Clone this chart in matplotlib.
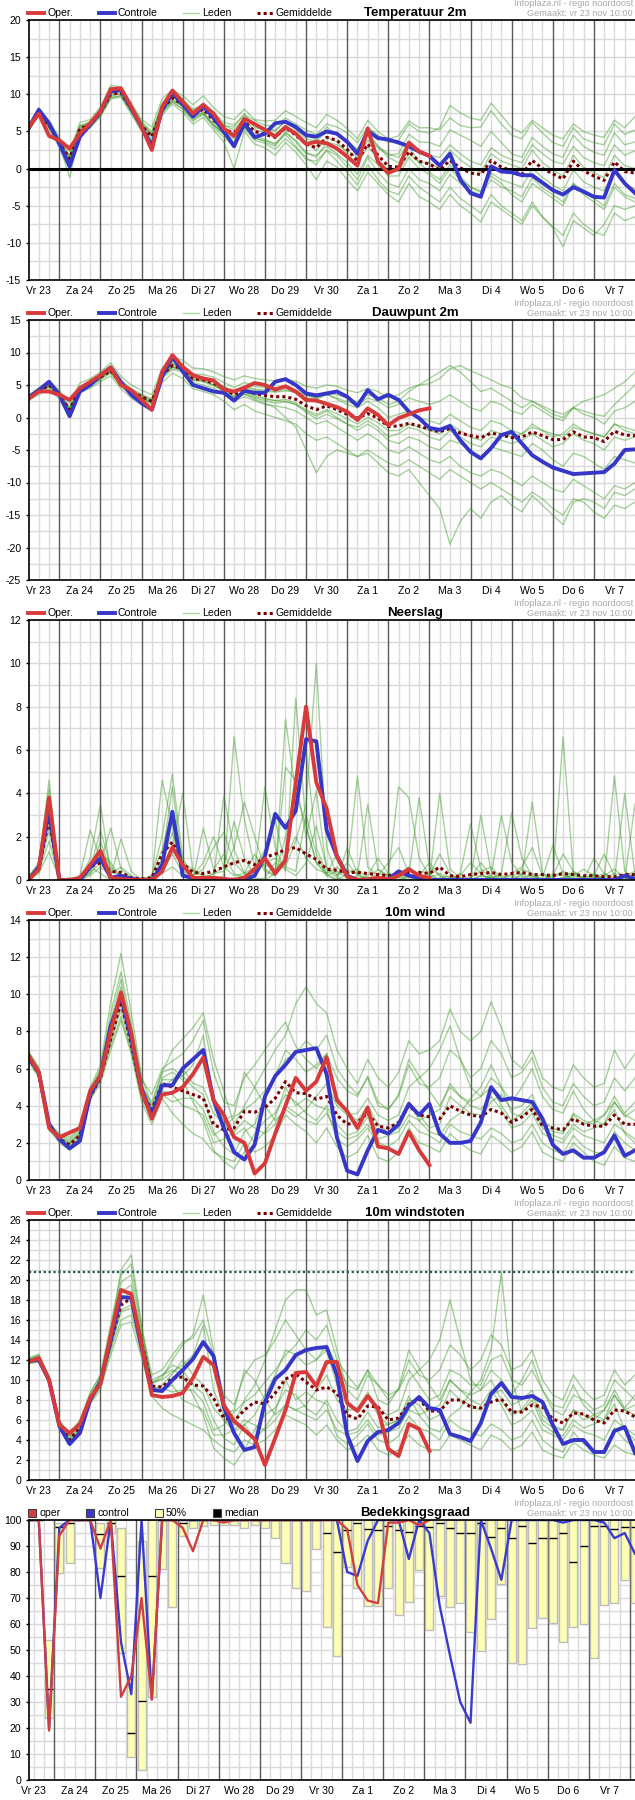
import numpy as np
import matplotlib
matplotlib.use("Agg")
import matplotlib.pyplot as plt
from matplotlib.lines import Line2D
from matplotlib.patches import Rectangle

plt.rcParams['font.family'] = ['Liberation Sans', 'DejaVu Sans']
plt.rcParams['axes.unicode_minus'] = False

W, H = 635, 1800

# hours after Vr 23 00:00, ensemble steps every 6 hours
hours = np.arange(6, 361, 6)
oper_hours = hours[:40]
cloud_hours = hours + 3
day_names = ['Vr 23', 'Za 24', 'Zo 25', 'Ma 26', 'Di 27', 'Wo 28', 'Do 29', 'Vr 30',
             'Za 1', 'Zo 2', 'Ma 3', 'Di 4', 'Wo 5', 'Do 6', 'Vr 7']
day_mid = [12 + 24 * i for i in range(len(day_names))]

# ---------------- Temperatuur 2m ----------------
temp_oper = [5.5, 7.4, 4.4, 3.8, 2.7, 4.7, 6.1, 7.7, 10.7, 10.8,
             8.3, 5.6, 2.5, 8.3, 10.5, 9.0, 7.4, 8.6, 7.4, 5.4,
             4.4, 6.7, 6.0, 5.2, 4.3, 5.6, 4.7, 3.3, 3.6, 3.4,
             2.7, 1.6, 0.4, 5.4, 0.9, -0.6, 0.0, 3.5, 2.3, 1.7]
temp_ctrl = [5.4, 7.9, 6.1, 3.4, 0.3, 4.3, 5.9, 7.7, 10.4, 10.6,
             8.1, 5.6, 3.0, 7.9, 10.2, 8.6, 7.0, 8.4, 6.8, 5.0,
             3.0, 6.1, 4.2, 4.7, 6.1, 6.3, 5.6, 4.5, 4.3, 5.0,
             4.7, 3.6, 2.0, 5.1, 4.1, 3.9, 3.5, 3.0, 2.3, 1.7,
             0.4, 2.0, -1.5, -3.3, -3.8, 0.3, -0.4, -0.5, -0.9, -0.9,
             -1.9, -2.9, -3.5, -2.5, -3.1, -3.8, -3.9, -0.2, -2.0, -3.3]
temp_mean = [5.4, 7.6, 5.8, 3.5, 1.3, 5.4, 5.9, 7.5, 10.0, 10.2,
             8.0, 5.8, 4.3, 8.0, 9.5, 8.6, 7.2, 8.0, 6.5, 5.3,
             4.8, 6.3, 5.0, 4.6, 4.2, 5.5, 4.5, 3.3, 2.8, 4.2,
             3.8, 2.6, 1.0, 3.3, 1.8, 0.3, 0.2, 2.3, 1.0, 0.6,
             -0.2, 1.1, 0.1, -0.6, -0.8, 1.1, 0.2, -0.3, -0.8, 1.1,
             0.0, -0.7, -1.4, 1.0, -0.3, -1.0, -1.6, 0.9, -0.4, -0.6]
temp_members = [
    [5.9, 8.2, 6.4, 4.2, 2.3, 6.2, 6.6, 8.3, 11.2, 11.0,
     8.8, 6.6, 5.6, 9.4, 10.6, 9.8, 8.6, 9.8, 8.2, 7.0,
     6.6, 8.0, 6.6, 6.4, 6.5, 7.8, 7.0, 6.2, 5.5, 7.3,
     6.5, 5.4, 4.0, 6.5, 5.0, 4.0, 4.4, 6.4, 5.5, 5.5,
     5.2, 6.8, 5.8, 5.5, 5.6, 7.8, 6.0, 4.5, 4.0, 6.2,
     4.8, 3.5, 3.0, 5.5, 4.0, 3.5, 3.2, 6.0, 4.6, 5.2],
    [5.0, 7.2, 5.3, 2.8, 0.0, 4.6, 5.5, 7.0, 9.4, 9.6,
     7.3, 5.0, 3.2, 7.2, 8.7, 7.6, 6.0, 6.9, 5.2, 3.6,
     0.0, 5.0, 3.3, 2.8, 1.8, 3.5, 2.2, 0.5, -1.5, 1.0,
     0.2, -1.5, -3.0, -0.5, -2.0, -3.5, -4.5, -2.0, -3.8, -4.5,
     -5.5, -3.5, -5.0, -6.0, -7.2, -4.5, -5.5, -6.5, -7.5, -5.0,
     -6.5, -7.8, -9.0, -6.0, -7.5, -8.5, -9.0, -6.0, -7.0, -6.5],
    [5.6, 7.8, 6.0, 3.9, 1.8, 5.8, 6.3, 7.9, 10.6, 10.5,
     8.4, 6.2, 4.8, 8.6, 10.0, 9.1, 7.8, 8.6, 7.3, 5.8,
     5.6, 7.4, 5.5, 5.4, 5.2, 6.3, 5.6, 4.6, 3.8, 5.6,
     4.5, 3.8, 2.6, 5.0, 3.0, 1.5, 0.8, 3.0, 0.8, -0.5,
     -1.5, 0.5, -1.0, -2.5, -3.0, -1.0, -2.0, -3.5, -4.5, -2.0,
     -3.0, -4.0, -5.0, -2.0, -3.5, -4.5, -5.5, -2.5, -3.8, -4.5],
    [5.2, 7.4, 5.5, 3.1, 0.8, 5.0, 5.6, 7.1, 9.6, 9.8,
     7.6, 5.4, 3.7, 7.5, 9.0, 8.0, 6.6, 7.4, 5.9, 4.6,
     4.0, 5.6, 4.2, 3.6, 3.0, 4.8, 3.8, 2.2, 1.5, 3.6,
     3.2, 2.4, 1.5, 3.8, 2.8, 1.8, 2.0, 4.6, 3.6, 3.5,
     3.0, 5.2, 4.5, 3.8, 3.0, 5.0, 3.5, 2.0, 1.5, 4.2,
     3.0, 2.0, 1.5, 4.5, 3.0, 2.2, 1.8, 4.8, 3.2, 3.6],
    [5.5, 7.5, 5.9, 3.6, 1.0, 5.3, 6.0, 7.6, 9.9, 10.4,
     8.2, 5.6, 4.0, 7.8, 9.2, 8.4, 7.0, 7.6, 6.0, 4.6,
     3.6, 5.6, 4.0, 3.8, 3.4, 4.6, 3.0, 1.5, 0.5, 2.5,
     1.8, 0.2, -1.5, 1.5, -0.5, -2.0, -2.5, 0.0, -1.5, -2.0,
     -3.0, -0.8, -2.0, -3.0, -3.5, -1.5, -2.5, -3.0, -3.8, -1.2,
     -2.6, -3.5, -4.5, -2.0, -3.0, -4.0, -5.0, -2.0, -3.5, -4.0],
    [5.3, 7.7, 5.7, 3.4, 1.6, 5.7, 6.2, 7.7, 10.3, 10.0,
     7.8, 6.0, 4.6, 8.4, 9.8, 8.8, 7.5, 8.5, 7.0, 5.8,
     5.2, 6.9, 6.0, 5.4, 5.0, 6.5, 5.2, 4.0, 3.6, 5.0,
     4.8, 3.6, 2.5, 4.5, 3.0, 2.0, 1.5, 3.5, 2.0, 1.8,
     1.5, 3.2, 2.0, 1.0, 0.5, 2.8, 1.8, 1.2, 0.8, 3.2,
     2.0, 1.0, 0.6, 3.0, 1.5, 0.8, 0.4, 3.2, 1.8, 2.4],
    [5.4, 7.5, 5.6, 3.3, 1.2, 5.2, 5.8, 7.3, 9.8, 10.1,
     7.9, 5.9, 4.4, 8.1, 9.3, 8.4, 6.8, 7.5, 5.8, 4.8,
     4.2, 5.8, 4.4, 3.9, 3.2, 5.0, 3.6, 2.0, 1.8, 3.0,
     2.0, 0.8, -0.8, 1.8, 0.5, -1.0, -1.0, 1.5, 0.0, -0.8,
     -2.0, 0.0, -1.5, -2.5, -3.2, -0.6, -1.5, -2.0, -2.5, 0.0,
     -1.2, -2.2, -3.0, -0.2, -1.8, -2.5, -3.0, -0.2, -2.0, -2.8],
    [5.6, 7.9, 6.1, 3.8, 1.5, 5.5, 6.1, 7.8, 10.8, 10.6,
     8.5, 6.3, 5.0, 8.8, 10.2, 9.4, 8.0, 8.6, 7.6, 6.2,
     5.9, 7.2, 6.5, 5.8, 5.8, 6.8, 6.0, 5.2, 4.6, 6.0,
     5.6, 4.8, 3.5, 5.6, 4.5, 3.5, 3.8, 6.0, 5.0, 4.8,
     5.5, 8.5, 7.5, 6.8, 6.5, 8.8, 7.2, 5.5, 4.8, 6.5,
     5.5, 4.5, 4.0, 6.0, 5.0, 4.5, 4.2, 6.5, 5.5, 7.0],
    [5.1, 7.3, 5.6, 3.2, -1.2, 4.9, 5.7, 7.2, 9.5, 9.8,
     7.7, 5.3, 3.6, 7.6, 9.0, 8.0, 6.4, 7.3, 5.6, 4.2,
     3.0, 5.4, 3.8, 3.4, 2.6, 4.0, 2.8, 1.2, 1.0, 2.4,
     1.0, -0.5, -2.2, 0.5, -1.5, -3.0, -3.5, -1.0, -2.5, -3.5,
     -4.5, -2.5, -4.0, -5.0, -6.0, -3.5, -5.0, -6.0, -7.0, -4.5,
     -6.5, -8.0, -10.5, -7.0, -8.0, -9.0, -7.5, -5.0, -5.5, -5.0],
    [5.5, 7.7, 5.9, 3.6, 1.4, 5.6, 6.0, 7.6, 10.1, 10.4,
     8.1, 5.9, 4.4, 8.0, 9.6, 8.7, 7.4, 8.2, 6.8, 5.4,
     4.6, 6.6, 5.2, 4.9, 4.6, 5.8, 4.8, 3.6, 2.4, 4.2,
     3.6, 2.0, 0.5, 3.0, 1.2, -0.2, -0.4, 2.0, 0.8, 0.8,
     0.0, 2.5, 1.2, 0.2, -0.5, 2.0, 1.0, 0.5, 0.0, 2.5,
     0.8, -0.2, -1.0, 1.8, 0.2, -0.6, -1.2, 1.8, 0.4, 0.0],
]

# ---------------- Dauwpunt 2m ----------------
dew_oper = [2.9, 4.0, 4.0, 3.5, 2.7, 4.5, 5.5, 6.5, 7.7, 5.0,
            4.2, 2.7, 1.2, 7.0, 9.6, 7.8, 6.5, 6.0, 5.7, 4.3,
            4.0, 4.6, 5.3, 5.0, 4.3, 4.8, 4.0, 2.7, 2.6, 2.1,
            1.6, 0.9, -0.4, 1.4, 0.4, -1.2, -0.1, 0.5, 1.1, 1.4]
dew_ctrl = [3.1, 4.2, 5.5, 3.5, 0.2, 4.0, 5.0, 6.5, 7.7, 5.4,
            3.5, 2.2, 1.2, 6.3, 9.3, 7.1, 5.0, 4.5, 4.0, 3.8,
            2.6, 4.1, 3.8, 3.8, 5.5, 5.9, 5.0, 3.7, 3.4, 3.7,
            4.0, 3.2, 1.8, 4.2, 2.8, 3.5, 2.7, 0.9, -0.1, -1.6,
            -1.9, -1.3, -3.5, -5.3, -6.3, -4.7, -2.7, -2.2, -4.0, -5.8,
            -6.8, -7.7, -8.2, -8.7, -8.6, -8.5, -8.4, -7.1, -5.0, -4.9]
dew_mean = [3.0, 4.0, 5.0, 3.5, 1.2, 4.5, 5.2, 6.2, 7.2, 5.3,
            4.0, 3.2, 2.5, 6.5, 8.0, 7.5, 6.0, 5.8, 5.3, 4.5,
            3.5, 4.2, 3.7, 3.4, 3.2, 3.2, 2.8, 1.8, 1.2, 1.8,
            1.2, 0.5, -0.1, 0.6, -0.1, -1.4, -1.3, -0.9, -1.3, -1.8,
            -2.2, -1.7, -2.4, -2.8, -3.1, -2.4, -2.7, -3.1, -3.0, -2.2,
            -2.8, -3.4, -3.4, -2.2, -3.0, -3.1, -3.7, -2.1, -2.7, -2.8]
dew_members = [
    [3.4, 4.6, 5.6, 4.2, 2.2, 5.3, 6.0, 7.0, 8.4, 6.3,
     5.0, 4.2, 3.5, 7.6, 9.4, 8.8, 7.6, 7.5, 7.0, 6.3,
     5.8, 6.4, 6.0, 5.8, 5.6, 5.8, 5.6, 4.8, 4.5, 5.0,
     4.8, 4.2, 3.8, 4.5, 4.0, 3.0, 3.5, 4.5, 5.0, 5.2,
     6.0, 7.5, 8.0, 7.2, 6.5, 5.8, 5.0, 4.5, 3.0, 2.5,
     1.8, 1.0, 0.5, 1.5, 1.0, 0.5, 0.2, 2.0, 3.5, 5.0],
    [2.6, 3.5, 4.4, 2.8, 0.0, 3.8, 4.5, 5.5, 6.4, 4.4,
     3.0, 2.0, 1.2, 5.4, 6.8, 6.0, 4.4, 4.0, 3.5, 2.5,
     1.2, 2.0, 1.0, 0.5, 0.0, -0.5, -1.0, -2.5, -3.5, -3.0,
     -4.0, -5.0, -6.0, -5.5, -7.0, -8.5, -9.0, -8.0, -10.0, -12.0,
     -14.0, -19.5, -16.0, -14.0, -15.5, -13.0, -12.0, -13.5, -14.5, -12.0,
     -13.5, -15.0, -16.5, -13.0, -12.5, -13.0, -14.0, -11.5, -12.0, -11.0],
    [3.1, 4.2, 5.2, 3.7, 1.6, 4.8, 5.6, 6.6, 7.8, 5.8,
     4.4, 3.6, 2.9, 7.0, 8.6, 8.0, 6.7, 6.6, 6.2, 5.4,
     4.6, 5.4, 4.8, 4.6, 4.5, 4.8, 4.2, 3.5, 3.0, 3.6,
     2.8, 2.0, 1.5, 2.5, 1.5, 0.0, 0.5, 1.0, 0.0, -0.5,
     -1.0, 0.5, -0.5, -1.5, -2.0, -0.5, -1.0, -2.0, -2.5, -1.0,
     -2.0, -2.5, -3.0, -1.5, -2.0, -2.5, -3.0, -1.0, -1.5, -2.0],
    [2.8, 3.8, 4.7, 3.2, 0.8, 4.2, 4.8, 5.8, 6.8, 4.8,
     3.6, 2.8, 2.0, 6.0, 7.4, 7.0, 5.4, 5.0, 4.5, 3.6,
     2.5, 3.2, 2.6, 2.0, 1.8, 1.5, 1.0, 0.0, -1.0, -0.5,
     -1.5, -2.5, -3.5, -2.5, -3.5, -5.0, -5.5, -4.5, -5.5, -6.5,
     -7.0, -6.0, -7.5, -8.5, -9.0, -8.0, -8.5, -9.5, -10.5, -9.0,
     -10.0, -11.0, -11.5, -9.5, -10.5, -11.5, -12.5, -10.5, -11.0, -10.0],
    [3.2, 4.3, 5.3, 3.9, 1.4, 4.7, 5.4, 6.4, 7.5, 5.5,
     4.3, 3.4, 2.7, 6.8, 8.3, 7.8, 6.3, 6.2, 5.6, 4.8,
     4.0, 4.8, 4.4, 4.2, 4.0, 4.3, 3.8, 3.0, 2.8, 3.5,
     3.0, 2.4, 2.0, 3.0, 2.5, 1.5, 2.0, 3.0, 2.5, 2.0,
     2.5, 3.5, 2.5, 1.5, 1.0, 2.5, 2.0, 1.0, 0.5, 2.0,
     1.0, 0.0, -0.5, 1.5, 0.5, 0.0, -1.0, 1.0, 1.5, 2.5],
    [2.9, 3.9, 4.8, 3.3, 1.0, 4.3, 5.0, 6.0, 7.0, 5.0,
     3.8, 3.0, 2.2, 6.3, 7.8, 7.2, 5.7, 5.5, 4.9, 4.0,
     2.8, 3.6, 3.0, 2.6, 2.2, 2.4, 2.0, 0.8, -0.2, 0.5,
     -0.2, -1.0, -2.0, -1.0, -2.0, -3.5, -4.0, -3.0, -3.5, -4.5,
     -5.0, -3.5, -4.0, -5.0, -6.0, -4.5, -5.0, -5.5, -6.0, -4.0,
     -5.0, -6.5, -7.5, -5.5, -6.0, -7.0, -8.0, -6.0, -6.5, -7.0],
    [3.0, 4.1, 5.1, 3.6, 1.3, 4.6, 5.3, 6.3, 7.3, 5.2,
     4.0, 3.1, 2.4, 6.6, 8.1, 7.6, 6.1, 5.9, 5.4, 4.4,
     3.3, 4.0, 3.4, 3.0, 2.6, 2.5, 2.0, 1.0, 0.2, 1.0,
     0.0, -1.0, -1.5, -0.5, -1.5, -3.0, -2.5, -1.5, -2.0, -3.0,
     -3.5, -2.0, -3.0, -4.0, -4.5, -3.0, -3.5, -4.0, -3.5, -2.5,
     -3.5, -4.5, -4.0, -2.5, -3.5, -4.0, -5.0, -3.0, -3.5, -3.0],
    [3.0, 4.0, 4.9, 3.4, 1.1, 4.4, 5.1, 6.1, 7.1, 5.1,
     3.9, 3.1, 2.3, 6.4, 7.9, 7.3, 5.9, 5.6, 5.0, 4.2,
     3.2, 3.6, 2.8, 2.2, 1.5, 0.0, -1.5, -5.0, -8.5, -6.0,
     -5.0, -5.5, -6.0, -5.0, -6.0, -7.0, -7.5, -6.5, -7.5, -8.5,
     -9.5, -8.0, -9.0, -10.0, -11.0, -10.0, -11.0, -12.0, -13.0, -11.5,
     -12.5, -14.0, -15.0, -12.5, -13.0, -14.5, -15.5, -13.5, -14.0, -13.0],
    [3.1, 4.1, 5.0, 3.5, 1.3, 4.6, 5.3, 6.3, 7.4, 5.4,
     4.1, 3.3, 2.6, 6.6, 8.2, 7.7, 6.2, 6.0, 5.5, 4.7,
     3.8, 4.6, 4.2, 4.0, 3.9, 4.1, 3.9, 3.4, 3.0, 3.8,
     3.5, 3.0, 2.4, 3.5, 3.0, 2.0, 2.5, 4.0, 5.0, 6.0,
     7.0, 8.0, 7.0, 5.5, 4.0, 4.5, 3.5, 2.5, 1.5, 2.5,
     1.5, 0.5, 0.0, 1.5, 2.5, 3.0, 3.5, 4.5, 5.5, 7.0],
    [2.9, 3.9, 4.9, 3.4, 1.0, 4.4, 5.1, 6.1, 7.0, 5.1,
     3.8, 3.0, 2.3, 6.3, 7.7, 7.3, 5.8, 5.7, 5.0, 4.2,
     3.0, 3.8, 3.2, 2.8, 2.6, 2.8, 2.2, 1.2, 0.5, 1.2,
     0.6, -0.2, -1.0, 0.0, -0.8, -2.0, -2.0, -1.0, -1.5, -2.0,
     -2.5, -1.0, -2.0, -3.0, -3.5, -2.0, -2.5, -3.0, -2.5, -1.5,
     -2.0, -3.0, -2.5, -1.0, -2.0, -2.5, -3.0, -1.0, -2.0, -2.5],
]

# ---------------- Neerslag ----------------
prec_oper = [0.0, 0.5, 3.8, 0.0, 0.0, 0.1, 0.7, 1.35, 0.1, 0.05,
             0.0, 0.0, 0.0, 0.4, 1.5, 0.7, 0.1, 0.1, 0.1, 0.05,
             0.0, 0.1, 0.5, 1.0, 0.3, 0.9, 4.5, 8.0, 4.5, 3.3,
             1.1, 0.15, 0.0, 0.03, 0.1, 0.03, 0.2, 0.5, 0.2, 0.1]
prec_ctrl = [0.0, 0.6, 3.2, 0.0, 0.0, 0.0, 0.6, 1.0, 0.1, 0.2,
             0.05, 0.0, 0.0, 0.7, 3.15, 0.2, 0.1, 0.05, 0.0, 0.0,
             0.0, 0.0, 0.2, 1.1, 3.05, 2.4, 3.2, 6.5, 6.4, 2.3,
             1.1, 0.2, 0.0, 0.0, 0.0, 0.03, 0.4, 0.2, 0.1, 0.0,
             0.0, 0.0, 0.0, 0.0, 0.0, 0.0, 0.0, 0.0, 0.0, 0.0,
             0.0, 0.0, 0.0, 0.0, 0.0, 0.0, 0.0, 0.0, 0.2, 0.05]
prec_mean = [0.0, 0.5, 2.8, 0.0, 0.0, 0.1, 0.6, 0.8, 0.4, 0.35,
             0.1, 0.05, 0.1, 1.2, 1.75, 0.75, 0.35, 0.3, 0.4, 0.6,
             0.8, 0.9, 0.7, 1.05, 1.2, 1.4, 1.5, 1.2, 0.95, 0.5,
             0.45, 0.35, 0.35, 0.3, 0.25, 0.2, 0.25, 0.35, 0.35, 0.3,
             0.6, 0.2, 0.15, 0.25, 0.3, 0.35, 0.25, 0.3, 0.35, 0.25,
             0.25, 0.2, 0.3, 0.25, 0.2, 0.2, 0.15, 0.15, 0.25, 0.25]
prec_members = [
    [0.1, 0.8, 4.6, 0.0, 0.0, 0.1, 0.5, 2.3, 0.6, 0.2,
     0.0, 0.0, 0.2, 2.0, 4.9, 1.0, 0.2, 0.5, 1.5, 2.2,
     0.8, 0.3, 0.6, 1.4, 2.8, 0.6, 1.8, 3.5, 10.0, 1.5,
     0.2, 0.5, 0.3, 0.0, 0.2, 0.8, 1.5, 0.3, 0.0, 0.2,
     1.2, 0.3, 0.0, 0.1, 0.8, 0.2, 0.0, 0.3, 0.6, 1.5,
     0.2, 0.0, 0.1, 0.4, 0.1, 0.0, 0.2, 0.5, 0.1, 0.0],
    [0.0, 0.4, 2.3, 0.0, 0.0, 0.0, 1.0, 3.5, 0.3, 0.6,
     0.2, 0.0, 0.1, 4.6, 2.5, 0.3, 0.0, 0.1, 0.3, 0.4,
     1.5, 3.6, 2.0, 0.5, 0.2, 7.4, 4.0, 2.5, 0.8, 0.2,
     0.0, 1.5, 0.3, 0.0, 0.0, 0.1, 0.2, 0.1, 0.4, 0.3,
     0.0, 0.0, 0.2, 0.8, 0.3, 0.0, 0.0, 0.1, 0.5, 0.3,
     0.0, 0.2, 1.2, 0.4, 0.0, 0.1, 0.3, 0.1, 0.2, 0.4],
    [0.0, 0.6, 3.2, 0.1, 0.0, 0.1, 0.3, 0.8, 2.4, 0.5,
     0.1, 0.0, 0.0, 1.0, 4.3, 0.6, 0.1, 0.0, 0.0, 0.2,
     6.6, 2.8, 0.6, 0.7, 0.5, 1.0, 2.0, 1.0, 0.5, 0.3,
     0.6, 0.2, 0.1, 0.0, 0.3, 0.2, 4.3, 3.8, 1.0, 0.2,
     0.0, 0.1, 0.0, 0.0, 0.2, 0.1, 0.0, 0.0, 0.1, 0.2,
     0.0, 0.0, 6.6, 0.3, 0.1, 0.3, 0.0, 0.0, 0.1, 0.0],
    [0.0, 0.3, 1.3, 0.0, 0.0, 0.2, 2.3, 1.0, 0.2, 0.0,
     0.0, 0.0, 0.0, 0.3, 0.6, 0.2, 0.0, 2.4, 0.5, 1.2,
     0.3, 0.1, 0.4, 4.3, 1.5, 0.4, 8.4, 2.5, 0.8, 0.3,
     1.2, 0.4, 4.8, 0.6, 0.2, 0.0, 0.3, 0.6, 0.2, 0.0,
     4.0, 0.5, 0.1, 0.0, 0.0, 0.2, 3.0, 0.8, 0.2, 0.0,
     0.1, 1.6, 0.3, 0.0, 0.1, 0.2, 0.0, 4.8, 0.4, 0.1],
    [0.0, 0.5, 3.0, 0.0, 0.0, 0.0, 0.4, 1.8, 0.4, 0.2,
     0.0, 0.0, 0.1, 0.6, 1.5, 4.0, 0.4, 0.2, 0.0, 0.0,
     0.1, 0.2, 0.1, 0.0, 0.3, 5.2, 4.6, 2.0, 4.1, 0.5,
     0.1, 0.0, 0.2, 3.5, 0.5, 0.1, 0.0, 0.2, 3.8, 0.6,
     0.2, 0.0, 0.3, 0.0, 3.0, 0.4, 0.0, 0.0, 0.2, 3.6,
     0.3, 0.0, 0.0, 0.3, 0.0, 1.0, 0.3, 0.0, 4.0, 0.2],
    [0.2, 0.7, 2.6, 0.0, 0.1, 0.0, 0.2, 0.6, 0.2, 1.9,
     0.4, 0.0, 0.0, 0.8, 2.2, 0.4, 0.2, 0.8, 2.0, 0.6,
     0.2, 0.3, 1.2, 0.4, 0.2, 2.0, 3.8, 6.0, 1.5, 0.3,
     0.0, 0.3, 0.5, 0.1, 0.0, 0.3, 0.0, 0.0, 0.2, 0.8,
     0.2, 0.0, 0.3, 2.6, 0.5, 0.1, 0.2, 0.0, 0.3, 0.1,
     0.0, 0.3, 0.2, 0.1, 0.0, 0.2, 1.2, 0.2, 0.0, 3.5],
    [0.0, 0.4, 1.8, 0.0, 0.0, 0.1, 0.6, 0.3, 0.0, 0.1,
     0.0, 0.0, 0.2, 1.4, 3.2, 0.8, 0.5, 0.2, 0.1, 3.9,
     1.4, 0.3, 0.0, 0.1, 0.8, 0.5, 0.2, 0.8, 2.5, 0.6,
     0.2, 0.8, 0.2, 0.0, 0.5, 0.2, 0.1, 0.0, 0.0, 0.1,
     0.3, 0.1, 0.0, 0.1, 0.4, 0.6, 0.1, 0.2, 0.0, 0.0,
     0.3, 0.1, 0.4, 0.2, 0.0, 0.1, 0.0, 0.1, 0.0, 0.2],
    [0.0, 0.6, 4.2, 0.0, 0.0, 0.0, 0.3, 1.2, 0.8, 0.1,
     0.0, 0.1, 0.0, 0.4, 1.2, 0.3, 0.1, 0.0, 0.3, 0.6,
     2.7, 1.0, 0.2, 0.8, 1.0, 0.6, 0.4, 3.0, 1.2, 0.2,
     0.4, 0.1, 0.0, 0.2, 1.0, 0.3, 0.2, 0.0, 0.1, 0.0,
     0.1, 0.2, 0.1, 0.0, 0.2, 0.1, 0.3, 3.1, 1.0, 0.2,
     0.0, 0.0, 0.1, 0.2, 0.5, 0.2, 0.1, 0.3, 0.2, 0.1],
]

# ---------------- 10m wind ----------------
wind_oper = [6.7, 5.8, 2.8, 2.3, 2.55, 2.8, 4.8, 5.6, 8.0, 10.1,
             7.9, 4.8, 3.3, 4.6, 4.7, 5.0, 5.7, 6.6, 4.3, 3.5,
             2.3, 2.0, 0.35, 0.9, 2.5, 4.0, 5.5, 4.8, 5.3, 6.6,
             4.3, 3.7, 2.8, 3.9, 1.8, 1.7, 1.4, 2.6, 1.6, 0.8]
wind_ctrl = [6.6, 5.8, 3.0, 2.2, 1.7, 2.1, 4.6, 5.6, 8.3, 9.9,
             7.6, 4.9, 3.5, 5.1, 5.1, 6.0, 6.5, 7.0, 4.3, 2.8,
             1.5, 1.1, 1.9, 4.5, 5.6, 6.2, 6.9, 7.0, 7.1, 5.7,
             2.3, 0.5, 0.3, 1.6, 2.7, 2.5, 3.0, 4.1, 3.5, 4.1,
             2.5, 2.0, 2.0, 2.1, 3.1, 5.0, 4.3, 4.4, 4.3, 4.2,
             3.3, 1.9, 1.4, 1.6, 1.2, 1.2, 1.5, 2.4, 1.3, 1.6]
wind_mean = [6.6, 5.7, 2.9, 2.2, 1.9, 2.4, 4.5, 5.5, 7.6, 9.6,
             7.3, 4.7, 3.8, 5.2, 5.0, 4.8, 4.6, 4.4, 3.0, 2.7,
             2.8, 3.7, 3.65, 3.9, 4.4, 5.3, 4.7, 4.65, 4.35, 4.5,
             3.5, 3.0, 3.1, 3.6, 2.9, 2.8, 3.1, 4.0, 3.5, 3.4,
             3.3, 4.0, 3.7, 3.5, 3.4, 3.8, 3.6, 3.1, 3.4, 3.8,
             2.9, 2.8, 2.7, 3.3, 3.0, 2.9, 2.9, 3.5, 3.0, 3.0]
wind_members = [
    [6.8, 5.9, 3.0, 2.4, 2.1, 2.6, 4.8, 6.0, 9.0, 11.2,
     8.4, 5.4, 4.6, 6.0, 6.4, 6.8, 7.5, 8.6, 5.8, 4.2,
     4.0, 5.5, 6.2, 7.0, 7.8, 8.5, 7.2, 6.5, 6.0, 6.8,
     5.5, 4.8, 4.5, 5.6, 4.2, 3.8, 4.5, 6.2, 5.2, 5.0,
     5.5, 7.0, 6.5, 5.5, 6.0, 7.5, 6.8, 5.5, 5.8, 6.6,
     5.0, 4.2, 4.0, 5.2, 4.5, 4.0, 4.2, 5.5, 4.8, 5.5],
    [6.4, 5.5, 2.7, 2.0, 1.6, 2.2, 4.3, 5.2, 7.0, 8.6,
     6.8, 4.2, 3.0, 4.4, 3.6, 3.0, 2.5, 2.2, 1.5, 1.2,
     1.0, 2.0, 1.5, 1.8, 2.4, 3.5, 3.0, 2.6, 2.0, 2.8,
     1.8, 1.2, 1.5, 2.4, 1.2, 1.0, 1.5, 2.8, 2.0, 1.8,
     1.5, 2.5, 2.0, 1.6, 1.4, 2.4, 2.0, 1.5, 1.8, 2.6,
     1.5, 1.2, 1.0, 2.0, 1.5, 1.0, 0.8, 1.8, 1.2, 1.0],
    [6.7, 5.8, 3.1, 2.3, 2.0, 2.5, 4.6, 5.7, 7.9, 10.0,
     7.6, 5.0, 4.2, 5.8, 6.0, 5.6, 5.0, 4.6, 2.6, 1.8,
     1.4, 2.6, 3.0, 4.5, 5.6, 7.0, 6.5, 5.8, 6.2, 6.8,
     4.5, 3.6, 3.2, 4.0, 3.0, 2.5, 2.8, 4.0, 3.5, 2.8,
     3.0, 4.5, 4.0, 3.6, 3.5, 4.2, 4.6, 3.8, 4.0, 4.6,
     3.2, 2.8, 2.6, 3.5, 3.0, 3.2, 3.5, 4.2, 3.4, 3.8],
    [6.5, 5.6, 2.8, 2.1, 1.8, 2.3, 4.4, 5.4, 7.4, 9.2,
     7.0, 4.5, 3.5, 4.8, 4.6, 4.0, 3.8, 3.5, 2.0, 2.2,
     2.6, 3.2, 2.8, 2.5, 3.0, 4.0, 3.6, 3.2, 3.0, 3.6,
     2.6, 2.2, 2.4, 3.0, 2.2, 2.4, 2.6, 3.5, 3.2, 3.5,
     3.8, 5.2, 4.5, 4.0, 3.8, 4.5, 3.8, 2.8, 3.0, 3.6,
     2.5, 2.2, 2.0, 2.8, 2.4, 2.2, 2.0, 3.0, 2.6, 2.2],
    [6.9, 6.0, 2.9, 2.4, 2.2, 2.7, 4.9, 5.9, 8.6, 10.8,
     8.0, 5.2, 3.9, 5.4, 5.4, 5.6, 6.2, 7.8, 4.2, 3.2,
     3.5, 5.8, 5.0, 4.0, 3.2, 3.8, 3.4, 3.8, 4.5, 5.2,
     4.0, 3.5, 3.6, 4.4, 3.5, 3.2, 3.5, 5.0, 5.5, 6.0,
     7.0, 8.3, 6.5, 5.0, 4.5, 5.0, 4.0, 3.2, 3.6, 4.2,
     3.0, 2.6, 2.5, 3.6, 3.2, 3.0, 3.5, 4.5, 3.6, 4.2],
    [6.6, 5.7, 2.8, 2.2, 1.9, 2.4, 4.5, 5.5, 7.2, 8.8,
     6.9, 4.4, 3.4, 4.6, 4.2, 4.4, 4.4, 3.8, 2.4, 2.8,
     3.4, 3.8, 4.2, 4.8, 5.5, 6.5, 6.8, 7.5, 7.0, 7.8,
     6.0, 5.2, 4.6, 5.5, 4.0, 3.8, 4.6, 6.5, 5.6, 4.8,
     4.0, 5.0, 4.5, 4.2, 4.5, 5.5, 5.0, 4.2, 5.0, 6.0,
     4.5, 3.8, 3.6, 4.8, 3.8, 3.2, 3.0, 4.2, 3.5, 3.2],
    [6.7, 5.8, 3.0, 2.2, 1.8, 2.2, 4.6, 5.6, 8.2, 10.4,
     7.8, 4.9, 3.6, 5.5, 5.8, 5.4, 4.2, 3.2, 1.6, 1.0,
     0.6, 1.5, 2.5, 3.2, 3.6, 4.6, 4.2, 3.6, 3.2, 4.0,
     3.0, 2.4, 2.6, 3.4, 2.6, 2.8, 3.0, 4.2, 3.2, 2.6,
     2.4, 3.2, 3.6, 4.4, 5.0, 6.2, 5.0, 3.6, 3.4, 4.0,
     2.8, 2.4, 2.2, 3.0, 2.6, 2.8, 3.0, 3.8, 2.5, 2.0],
    [6.6, 5.6, 2.9, 2.3, 2.0, 2.5, 4.4, 5.4, 7.5, 9.5,
     7.4, 4.6, 3.8, 5.0, 5.4, 6.0, 5.2, 5.0, 3.6, 3.0,
     2.4, 2.8, 2.0, 2.6, 3.4, 5.0, 4.0, 4.4, 4.0, 3.8,
     2.2, 1.8, 2.2, 2.8, 2.0, 1.8, 2.2, 3.2, 2.6, 2.4,
     2.0, 3.0, 2.6, 2.4, 2.2, 2.8, 2.5, 2.0, 2.2, 3.0,
     2.0, 1.6, 1.4, 2.4, 1.8, 1.5, 1.4, 2.6, 2.0, 1.6],
    [6.9, 6.1, 3.1, 2.5, 2.3, 2.8, 5.0, 6.2, 9.6, 12.2,
     9.0, 5.6, 4.0, 5.8, 7.0, 7.6, 8.2, 9.0, 6.5, 4.8,
     3.0, 4.0, 5.0, 6.0, 7.0, 7.8, 9.5, 10.4, 9.5, 9.0,
     7.0, 6.0, 5.2, 6.5, 5.5, 5.0, 5.8, 7.5, 6.8, 7.0,
     7.5, 9.2, 8.0, 7.5, 8.0, 9.6, 8.2, 6.5, 6.0, 7.0,
     5.5, 5.0, 4.8, 6.2, 5.5, 5.0, 5.2, 7.0, 6.0, 6.8],
]

# ---------------- 10m windstoten ----------------
gust_oper = [11.8, 12.2, 10.0, 5.5, 4.7, 5.6, 8.2, 9.6, 14.5, 19.0,
             18.6, 13.5, 8.5, 8.3, 8.4, 8.7, 10.2, 12.3, 11.5, 7.5,
             5.9, 5.0, 4.1, 1.5, 4.2, 7.0, 10.7, 10.8, 9.4, 11.8,
             11.8, 7.7, 6.9, 8.4, 7.1, 3.1, 2.4, 5.6, 5.1, 2.9]
gust_ctrl = [11.9, 12.0, 10.0, 5.4, 3.6, 4.7, 8.0, 9.8, 14.0, 18.3,
             18.2, 13.2, 9.0, 8.9, 10.0, 11.0, 12.1, 13.8, 12.4, 7.3,
             4.7, 3.0, 3.3, 7.8, 10.1, 11.0, 12.5, 13.0, 13.2, 13.3,
             10.5, 4.5, 1.9, 3.9, 4.8, 5.0, 5.7, 7.4, 8.3, 7.2,
             7.0, 4.6, 4.3, 3.9, 5.7, 8.6, 9.7, 8.3, 8.2, 8.4,
             7.8, 5.5, 3.6, 4.0, 4.0, 2.8, 2.8, 4.9, 5.3, 2.7]
gust_mean = [11.9, 12.2, 10.0, 5.6, 4.0, 5.3, 8.0, 9.8, 13.8, 17.5,
             18.2, 13.8, 9.4, 9.3, 10.2, 10.3, 9.5, 9.4, 8.2, 6.2,
             5.9, 7.0, 7.8, 7.6, 8.7, 10.1, 10.6, 9.8, 9.0, 9.3,
             8.7, 6.5, 6.1, 7.4, 7.3, 6.0, 6.2, 7.6, 8.1, 6.9,
             6.9, 8.0, 8.0, 7.3, 7.2, 7.8, 8.1, 6.8, 6.8, 7.5,
             7.3, 6.1, 5.7, 6.7, 6.6, 6.0, 5.7, 7.0, 6.9, 6.3]
gust_limit = 20.85
gust_members = [
    [12.2, 12.6, 10.4, 6.0, 4.6, 6.0, 8.6, 10.6, 15.6, 20.5,
     21.6, 15.2, 10.5, 11.0, 12.5, 13.8, 14.2, 16.0, 12.5, 8.5,
     7.5, 10.5, 12.0, 12.5, 14.0, 16.0, 14.5, 13.0, 12.0, 13.5,
     11.5, 9.5, 9.0, 11.0, 9.5, 8.0, 9.0, 12.0, 10.5, 10.0,
     11.0, 13.5, 12.5, 11.0, 12.0, 14.5, 13.5, 11.0, 11.5, 13.0,
     10.0, 8.5, 8.0, 10.5, 9.0, 8.0, 8.5, 11.0, 9.5, 10.5],
    [11.6, 11.8, 9.6, 5.2, 3.5, 4.8, 7.6, 9.0, 12.5, 15.5,
     15.8, 12.2, 8.4, 7.2, 6.5, 6.0, 5.5, 5.0, 4.0, 3.2,
     2.8, 4.0, 3.5, 4.0, 5.0, 6.5, 6.0, 5.5, 4.5, 5.5,
     4.0, 3.0, 3.5, 4.5, 3.0, 2.5, 3.0, 4.5, 3.5, 3.0,
     3.0, 4.5, 4.0, 3.5, 3.0, 4.5, 4.0, 3.0, 3.5, 4.8,
     3.0, 2.5, 2.2, 3.8, 3.0, 2.5, 2.2, 3.5, 2.8, 2.5],
    [11.9, 12.3, 10.2, 5.7, 4.3, 5.6, 8.3, 10.2, 14.5, 18.8,
     19.5, 14.4, 10.0, 10.5, 11.5, 11.0, 9.5, 8.6, 6.0, 4.2,
     3.5, 5.5, 6.5, 8.5, 10.5, 13.0, 12.5, 11.5, 12.0, 13.0,
     9.5, 7.5, 7.0, 8.5, 6.5, 5.5, 6.0, 8.0, 7.5, 6.0,
     6.5, 9.0, 8.0, 7.5, 7.0, 8.5, 9.0, 7.5, 8.0, 9.0,
     6.5, 5.5, 5.0, 7.0, 6.0, 6.5, 7.0, 8.5, 7.0, 7.5],
    [11.7, 12.0, 9.9, 5.4, 3.8, 5.0, 7.8, 9.5, 13.2, 16.8,
     17.2, 13.0, 9.0, 9.0, 9.5, 8.0, 7.5, 7.0, 4.5, 4.5,
     5.0, 6.0, 5.5, 5.0, 6.0, 7.5, 7.0, 6.5, 6.0, 7.0,
     5.0, 4.5, 4.8, 6.0, 4.5, 4.8, 5.2, 7.0, 6.5, 7.0,
     7.5, 10.0, 9.0, 8.0, 7.5, 9.0, 7.5, 5.5, 6.0, 7.0,
     5.0, 4.5, 4.0, 5.5, 4.8, 4.5, 4.0, 6.0, 5.2, 4.5],
    [12.1, 12.5, 10.1, 5.8, 4.5, 5.8, 8.8, 10.4, 15.0, 19.8,
     20.5, 14.8, 9.8, 10.0, 10.8, 11.5, 12.5, 15.5, 9.0, 6.5,
     7.0, 11.0, 10.0, 8.0, 6.5, 7.5, 7.0, 7.5, 9.0, 10.5,
     8.0, 7.0, 7.2, 8.8, 7.0, 6.5, 7.0, 10.0, 11.0, 12.0,
     14.0, 18.0, 14.0, 10.0, 9.0, 10.0, 8.0, 6.5, 7.0, 8.5,
     6.0, 5.2, 5.0, 7.0, 6.5, 6.0, 7.0, 9.0, 7.2, 8.5],
    [11.8, 12.1, 10.0, 5.5, 4.0, 5.2, 7.9, 9.7, 13.5, 17.0,
     17.5, 13.5, 9.2, 9.2, 8.8, 9.0, 9.0, 7.8, 5.0, 5.5,
     6.8, 7.8, 8.5, 9.8, 11.0, 12.5, 13.5, 15.0, 14.0, 15.5,
     12.0, 10.5, 9.2, 11.0, 8.0, 7.5, 9.2, 13.0, 11.2, 9.5,
     8.0, 10.0, 9.0, 8.5, 9.0, 11.0, 10.0, 8.5, 10.0, 12.0,
     9.0, 7.5, 7.2, 9.5, 7.5, 6.5, 6.0, 8.5, 7.0, 6.5],
    [12.0, 12.3, 10.1, 5.6, 3.9, 5.0, 8.1, 10.0, 14.8, 21.0,
     22.5, 15.5, 9.6, 10.5, 11.0, 10.5, 8.5, 6.5, 3.2, 2.2,
     1.5, 3.0, 5.0, 6.5, 7.2, 9.0, 8.5, 7.2, 6.5, 8.0,
     6.0, 4.8, 5.2, 6.8, 5.2, 5.6, 6.0, 8.4, 6.5, 5.2,
     4.8, 6.4, 7.2, 8.8, 10.0, 13.0, 20.8, 10.0, 6.8, 8.0,
     5.6, 4.8, 4.4, 6.0, 5.2, 5.6, 6.0, 7.6, 5.0, 4.0],
    [11.8, 12.0, 9.9, 5.5, 4.1, 5.4, 7.8, 9.4, 13.0, 16.0,
     16.5, 12.8, 9.0, 9.5, 10.6, 12.0, 10.5, 9.5, 7.2, 6.0,
     4.8, 5.6, 4.0, 5.2, 6.8, 10.0, 8.0, 8.8, 8.0, 7.6,
     4.4, 3.6, 4.4, 5.6, 4.0, 3.6, 4.4, 6.4, 5.2, 4.8,
     4.0, 6.0, 5.2, 4.8, 4.4, 5.6, 5.0, 4.0, 4.4, 6.0,
     4.0, 3.2, 2.8, 4.8, 3.6, 3.0, 2.8, 5.2, 4.0, 3.2],
    [12.0, 12.4, 10.2, 5.9, 4.4, 5.6, 8.4, 10.1, 14.2, 18.0,
     18.8, 14.0, 9.6, 10.2, 12.0, 13.5, 14.5, 18.5, 13.0, 7.0,
     5.5, 8.0, 9.5, 12.0, 15.0, 18.0, 19.0, 19.0, 16.5, 17.0,
     13.0, 9.0, 8.0, 10.5, 9.5, 8.5, 9.0, 11.0, 9.5, 8.0,
     8.5, 11.0, 10.5, 9.5, 9.5, 12.0, 12.5, 10.0, 9.5, 11.0,
     9.0, 7.0, 6.5, 8.5, 8.0, 7.0, 7.5, 10.0, 9.0, 8.0],
]

# ---------------- Bedekkingsgraad ----------------
cloud_oper = [100, 100, 19, 94, 100, 100, 100, 89, 100, 32,
              40, 70, 31, 100, 100, 97, 88, 100, 100, 99,
              100, 100, 100, 100, 100, 100, 100, 100, 100, 100,
              100, 96.5, 75, 69, 68, 99, 99, 100, 98, 100]
cloud_ctrl = [100, 100, 20, 97, 100, 100, 100, 70, 100, 53,
              33, 100, 31, 100, 100, 100, 100, 100, 100, 100,
              100, 100, 100, 100, 100, 100, 100, 100, 100, 100,
              100, 80, 78.5, 92, 100, 100, 100, 85, 100, 95,
              67, 48, 30, 22, 100, 89, 77, 100, 100, 100,
              100, 100, 99, 100, 100, 100, 99, 93, 95, 87]
cloud_p25 = [100, 100, 24, 79.5, 83.3, 100, 100, 81.4, 95, 48.7,
             9, 3.8, 31.8, 81, 66.4, 93.8, 96.8, 97.7, 98, 98,
             98, 96.8, 98, 96.8, 93, 83.3, 73.7, 72.7, 88.7, 58.7,
             47.8, 82, 74, 67, 67, 74, 63.5, 68.3, 80.8, 57.7,
             70.9, 66.4, 68, 56.8, 49.6, 61.8, 75.3, 44.9, 44.5, 58.3,
             62.2, 60.3, 53, 59, 60, 46.8, 67.3, 68, 76.9, 68.2]
cloud_p75 = [100, 100, 54, 99, 100, 100, 100, 99, 100, 97,
             40, 92, 100, 100, 100, 100, 100, 100, 100, 100,
             100, 100, 100, 100, 100, 100, 100, 100, 100, 100,
             100, 100, 100, 100, 100, 100, 100, 100, 100, 100,
             100, 100, 100, 100, 100, 100, 100, 100, 100, 100,
             100, 100, 100, 100, 100, 100, 100, 100, 100, 100]
cloud_median = [100, 100, 35, 97.5, 98.7, 100, 100, 94.5, 99, 78.6,
                18, 30.4, 78.6, 100, 100, 99, 100, 100, 100, 100,
                100, 100, 100, 100, 100, 100, 100, 100, 100, 95.1,
                87.6, 96.2, 98.7, 96.4, 96, 97.7, 96, 95.4, 97.7, 97.4,
                98.7, 96.8, 94.9, 95, 98.7, 93.6, 96.8, 93, 97.8, 91,
                93, 93, 95, 84, 90, 97.8, 97.8, 96.5, 97.4, 97.4]

RED = '#d63a3a'
BLUE = '#3636c8'
GREEN = '#3a9a24'
MEAN = '#7a0000'
GRID = '#dadada'
DAYLINE = '#5a5a5a'
FS = 7.6

fig = plt.figure(figsize=(W / 100, H / 100), dpi=100)
fig.patch.set_facecolor('white')


def fx(x):
    return x / W


def fy(y):
    return 1 - y / H


def panel_axes(p):
    top = 300 * p + 20
    return fig.add_axes([fx(28.5), fy(top + 260), 1 - fx(28.5), 260 / H])


def frame(ax, x0, x1, y0, y1, major, minor):
    ax.set_xlim(x0, x1)
    ax.set_ylim(y0, y1)
    for y in np.arange(y0, y1 + 1e-6, minor):
        ax.axhline(y, color=GRID, lw=1, zorder=0)
    for h in range(0, 367, 6):
        if x0 < h < x1:
            if h % 24 == 0:
                ax.axvline(h, color=DAYLINE, lw=1, zorder=1)
            else:
                ax.axvline(h, color=GRID, lw=1, zorder=0)
    yt = np.arange(y0, y1 + 1e-6, major)
    ax.set_yticks(yt)
    ax.set_yticklabels([str(int(round(v))) for v in yt])
    ax.set_xticks(day_mid)
    ax.set_xticklabels(day_names)
    ax.tick_params(axis='x', length=0, pad=4, labelsize=FS)
    ax.tick_params(axis='y', length=2.2, width=1, pad=3, labelsize=FS, direction='out')
    ax.spines['right'].set_visible(False)
    for s in ('left', 'bottom', 'top'):
        ax.spines[s].set_linewidth(1.2)
        ax.spines[s].set_color('black')
        ax.spines[s].set_zorder(6)


def header(p, title):
    fig.text(fx(415), fy(300 * p + 13), title, ha='center', va='center',
             fontsize=9.5, fontweight='bold')
    fig.text(fx(633), fy(300 * p + 4), 'Infoplaza.nl - regio noordoost', ha='right',
             va='center', fontsize=6.6, color='#a8a8a8')
    fig.text(fx(633), fy(300 * p + 14), 'Gemaakt: vr 23 nov 10:00', ha='right',
             va='center', fontsize=6.6, color='#a8a8a8')


def line_legend(p):
    y = fy(300 * p + 13)
    items = [('Oper.', dict(color=RED, lw=2.8), 28),
             ('Controle', dict(color=BLUE, lw=2.8), 99),
             ('Leden', dict(color='#a8d89c', lw=1), 183),
             ('Gemiddelde', dict(color=MEAN, lw=2.2, linestyle=(0, (1, 1))), 257)]
    for label, style, x in items:
        fig.add_artist(Line2D([fx(x), fx(x + 16)], [y, y], transform=fig.transFigure, **style))
        fig.text(fx(x + 19), y, label, ha='left', va='center', fontsize=FS)


def ensemble_panel(p, title, members, mean, ctrl, oper, y0, y1, major, minor):
    ax = panel_axes(p)
    frame(ax, 6, 360, y0, y1, major, minor)
    for m in members:
        ax.plot(hours, m, color=GREEN, lw=1.0, alpha=0.45, zorder=2)
    ax.plot(hours, mean, color=MEAN, lw=2.2, linestyle=(0, (1, 1)), zorder=3)
    ax.plot(hours, ctrl, color=BLUE, lw=2.8, zorder=4)
    ax.plot(oper_hours, oper, color=RED, lw=2.8, zorder=5)
    header(p, title)
    line_legend(p)
    return ax


ax1 = ensemble_panel(0, 'Temperatuur 2m', temp_members, temp_mean, temp_ctrl, temp_oper,
                     -15, 20, 5, 2.5)
ax1.axhline(0, color='black', lw=2.2, zorder=3.5)

ensemble_panel(1, 'Dauwpunt 2m', dew_members, dew_mean, dew_ctrl, dew_oper, -25, 15, 5, 2.5)
ensemble_panel(2, 'Neerslag', prec_members, prec_mean, prec_ctrl, prec_oper, 0, 12, 2, 1)
ensemble_panel(3, '10m wind', wind_members, wind_mean, wind_ctrl, wind_oper, 0, 14, 2, 1)
ax5 = ensemble_panel(4, '10m windstoten', gust_members, gust_mean, gust_ctrl, gust_oper,
                     0, 26, 2, 1)
ax5.axhline(gust_limit, color='#1f5a5a', lw=1.6, linestyle=(0, (1, 1.2)), zorder=3)

# cloud cover panel
ax6 = panel_axes(5)
frame(ax6, 9, 363, 0, 100, 10, 5)
p25 = np.array(cloud_p25, float)
p75 = np.array(cloud_p75, float)
ax6.bar(cloud_hours, p75 - p25, bottom=p25, width=4.7, color='#ffffb4',
        edgecolor='#bdbdbd', lw=1, zorder=2)
ax6.hlines(cloud_median, cloud_hours - 2.35, cloud_hours + 2.35, color='black', lw=1, zorder=3)
ax6.plot(cloud_hours, cloud_ctrl, color='#3a3ad0', lw=1.7, zorder=4)
ax6.plot(cloud_hours[:40], cloud_oper, color='#d04040', lw=1.7, zorder=5)
header(5, 'Bedekkingsgraad')
ysq = 300 * 5 + 9
for label, col, x in [('oper', '#d04040', 28), ('control', '#3a3ad0', 86),
                      ('50%', '#ffffb4', 155), ('median', 'black', 213)]:
    fig.add_artist(Rectangle((fx(x), fy(ysq + 8)), 8 / W, 8 / H, transform=fig.transFigure,
                             facecolor=col, edgecolor='#404040', lw=0.8))
    fig.text(fx(x + 11), fy(ysq + 4), label, ha='left', va='center', fontsize=FS)

fig.savefig('out.png', dpi=100, facecolor='white')
